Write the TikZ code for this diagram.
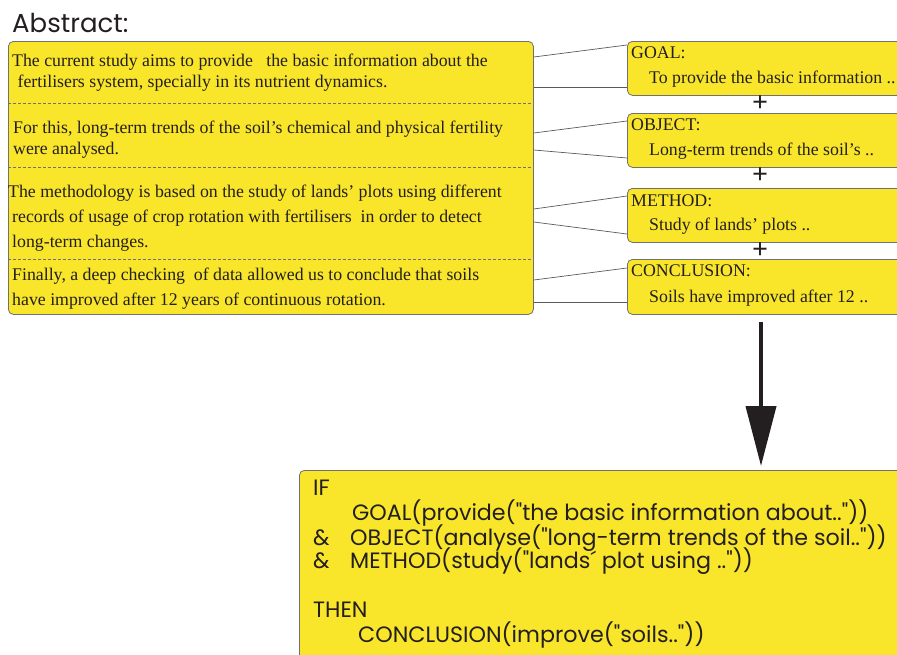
\documentclass[tikz,border=0pt]{standalone}
\usepackage{fontspec}
\setmainfont{Liberation Serif}
\newfontfamily\geofont{Poppins}
\usetikzlibrary{arrows.meta}
\definecolor{boxyellow}{HTML}{F9E62A}
\definecolor{edgegray}{HTML}{707070}
\definecolor{ink}{HTML}{231F20}
\begin{document}
\begin{tikzpicture}[x=1pt,y=-1pt,
  panel/.style={draw=edgegray,fill=boxyellow,line width=0.8pt,rounded corners=5pt,
    anchor=north west,inner sep=0pt},
  abstxt/.style={anchor=base west,inner sep=0pt,text=ink,font=\fontsize{17.8}{20}\selectfont},
  tagtxt/.style={anchor=base west,inner sep=0pt,text=ink,font=\fontsize{17.8}{20}\selectfont},
  ruletxt/.style={anchor=base west,inner sep=0pt,text=ink,font=\geofont\fontsize{22.2}{26}\selectfont},
  sep/.style={draw=edgegray,line width=0.6pt,dash pattern=on 3pt off 2pt},
  link/.style={draw=edgegray!80!black,line width=0.7pt},
  plus/.style={inner sep=0pt,text=ink,font=\bfseries\fontsize{28}{30}\selectfont}]
\useasboundingbox (0,0) rectangle (897,654);

% heading
\node[anchor=base west,inner sep=0pt,text=ink,font=\geofont\fontsize{26}{30}\selectfont] (head) at (12,32) {Abstract:};

% abstract panel with its four sections
\node[panel,minimum width=525pt,minimum height=273pt] (abs) at (8,41) {};
\draw[sep] (8,103) -- (533,103);
\draw[sep] (8,167) -- (533,167);
\draw[sep] (8,259) -- (533,259);

\node[abstxt] (a11) at (12,66) {The current study aims to provide\ \ \ the basic information about the};
\node[abstxt] (a12) at (13,87) {\ fertilisers system, specially in its nutrient dynamics.};
\node[abstxt] (a21) at (13,133) {For this, long-term trends of the soil’s chemical and physical fertility};
\node[abstxt] (a22) at (13,154) {were analysed.};
\node[abstxt] (a31) at (8,197) {The methodology is based on the study of lands’ plots using different};
\node[abstxt] (a32) at (12,222) {records of usage of crop rotation with fertilisers\ \ in order to detect};
\node[abstxt] (a33) at (12,247) {long-term changes.};
\node[abstxt] (a41) at (12,280) {Finally, a deep checking\ \ of data allowed us to conclude that soils};
\node[abstxt] (a42) at (12,305) {have improved after 12 years of continuous rotation.};

% tagged parts
\node[panel,minimum width=290pt,minimum height=54pt] (goal) at (627,41) {};
\node[panel,minimum width=290pt,minimum height=54pt] (object) at (627,113) {};
\node[panel,minimum width=290pt,minimum height=54pt] (method) at (627,188) {};
\node[panel,minimum width=290pt,minimum height=55pt] (concl) at (627,259) {};

\node[tagtxt] (goalT) at (631,58) {GOAL:};
\node[tagtxt] (goalC) at (649,83) {To provide the basic information ..};
\node[tagtxt] (objT) at (631,130) {OBJECT:};
\node[tagtxt] (objC) at (649,155) {Long-term trends of the soil’s ..};
\node[tagtxt] (metT) at (631,206) {METHOD:};
\node[tagtxt] (metC) at (649,230) {Study of lands’ plots ..};
\node[tagtxt] (conT) at (631,276) {CONCLUSION:};
\node[tagtxt] (conC) at (649,302) {Soils have improved after 12 ..};

\node[plus] (p1) at (760,104) {+};
\node[plus] (p2) at (760,176) {+};
\node[plus] (p3) at (760,251) {+};

% links from sections to tags
\draw[link] ([yshift=-16pt]abs.north east) -- ([yshift=-4pt]goal.north west);
\draw[link] ([yshift=-46pt]abs.north east) -- ([yshift=-46pt]goal.north west);
\draw[link] ([yshift=-92pt]abs.north east) -- ([yshift=-8pt]object.north west);
\draw[link] ([yshift=-109pt]abs.north east) -- ([yshift=-45pt]object.north west);
\draw[link] ([yshift=-168pt]abs.north east) -- ([yshift=-8pt]method.north west);
\draw[link] ([yshift=-181pt]abs.north east) -- ([yshift=-46pt]method.north west);
\draw[link] ([yshift=-239pt]abs.north east) -- ([yshift=-9pt]concl.north west);
\draw[link] ([yshift=-261pt]abs.north east) -- ([yshift=-43pt]concl.north west);

% rule panel
\node[panel,minimum width=620pt,minimum height=200pt] (rule) at (299,470) {};
\coordinate (arrtop) at (761,322);
\draw[ink,line width=4pt,-{Triangle[width=30pt,length=60pt]}] (arrtop) -- ([yshift=4pt]rule.north -| arrtop);

\node[ruletxt] (r1) at (313,495) {IF};
\node[ruletxt] (r2) at (352,520) {GOAL(provide("the basic information about.."))};
\node[ruletxt] (r3a) at (313,545) {\&};
\node[ruletxt] (r3) at (350,545) {OBJECT(analyse("long-term trends of the soil.."))};
\node[ruletxt] (r4a) at (313,568) {\&};
\node[ruletxt] (r4) at (350,568) {METHOD(study("lands´ plot using .."))};
\node[ruletxt] (r5) at (313,617) {THEN};
\node[ruletxt] (r6) at (358,642) {CONCLUSION(improve("soils.."))};
\end{tikzpicture}
\end{document}
